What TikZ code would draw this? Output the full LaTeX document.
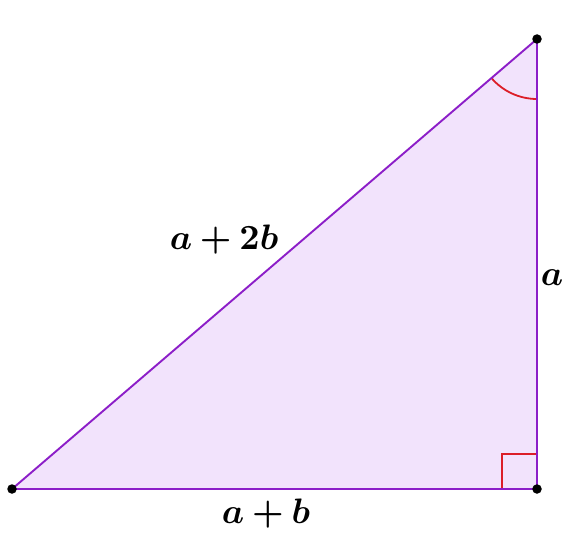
\documentclass[tikz,border=0pt]{standalone}
\usepackage{amsmath,bm}
\definecolor{edgec}{RGB}{140,30,200}
\definecolor{fillc}{RGB}{242,227,252}
\definecolor{markc}{RGB}{220,30,40}
\tikzset{
  pt/.style={circle,fill=black,inner sep=0pt,minimum size=9.5bp},
  lbl/.style={inner sep=0pt,scale=3.55}
}
\begin{document}
\begin{tikzpicture}[x=1bp,y=-1bp]
\useasboundingbox (0,0) rectangle (587,535);
\coordinate (A) at (12,489);
\coordinate (B) at (537,489);
\coordinate (C) at (537,39);
\fill[fillc] (A) -- (B) -- (C) -- cycle;
\draw[markc,line width=1.8bp] (502,489) -- (502,454) -- (537,454);
\draw[markc,line width=1.8bp] (C) ++(0,60) arc[start angle=90,delta angle={atan(525/450)},radius=60];
\draw[edgec,line width=1.9bp] (A) -- (B) -- (C) -- cycle;
\node[pt] (pA) at (A) {};
\node[pt] (pB) at (B) {};
\node[pt] (pC) at (C) {};
\node[lbl] (l1) at (224,240) {$\bm{a+2b}$};
\node[lbl] (l2) at (552,278) {$\bm{a}$};
\node[lbl] (l3) at (266,514) {$\bm{a+b}$};
\end{tikzpicture}
\end{document}
